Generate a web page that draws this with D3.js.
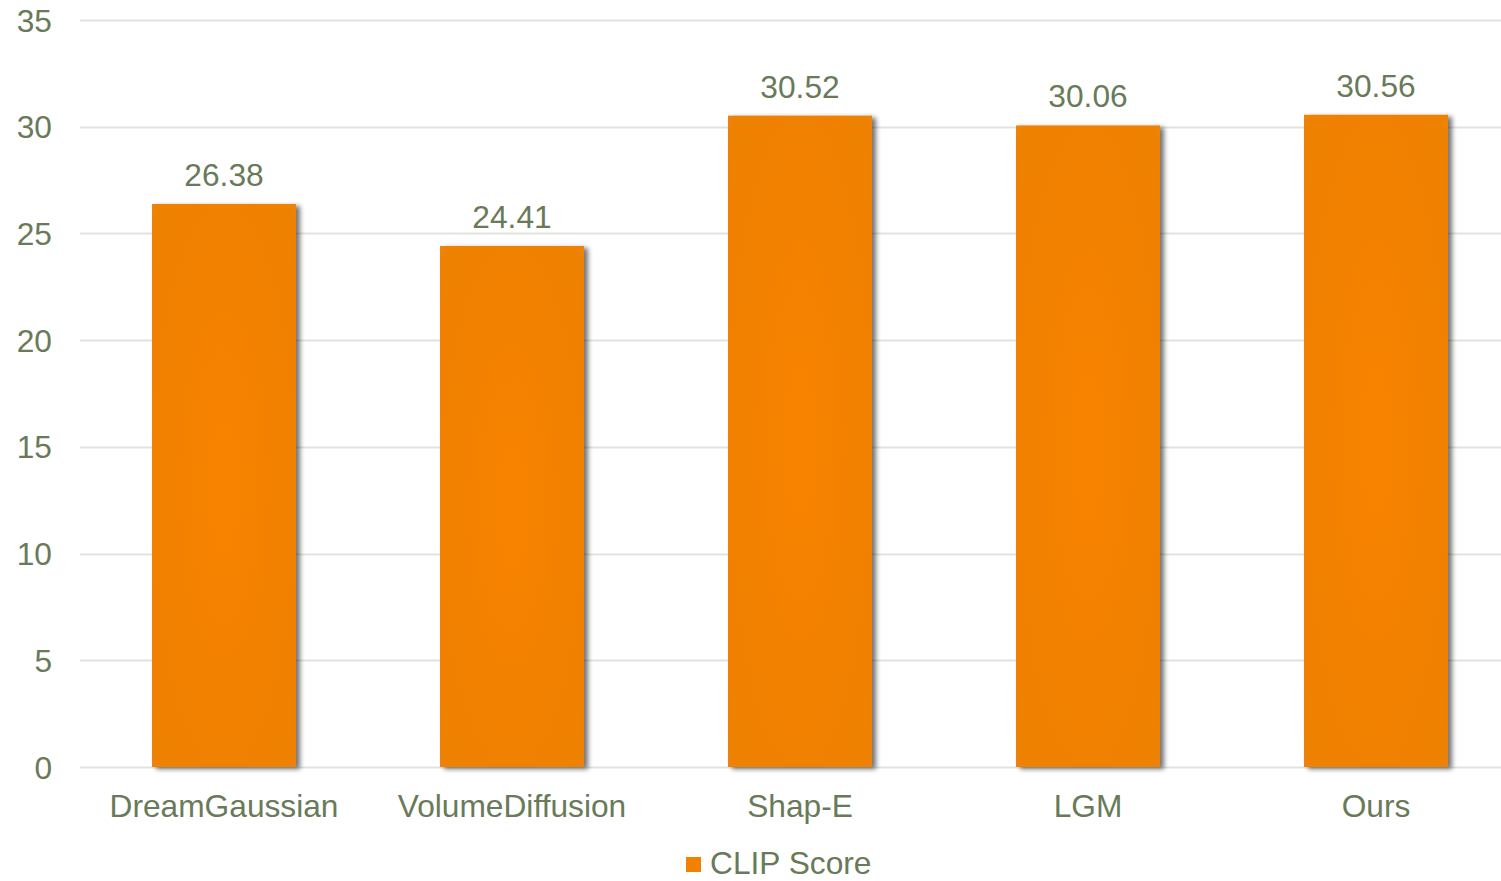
<!DOCTYPE html>
<html>
<head>
<meta charset="utf-8">
<script src="https://cdn.jsdelivr.net/npm/d3@7"></script>
<style>
  html, body { margin: 0; padding: 0; background: #fff; }
  svg { display: block; }
</style>
</head>
<body>
<svg id="chart" width="1501" height="881"></svg>
<script>
const categories = ["DreamGaussian", "VolumeDiffusion", "Shap-E", "LGM", "Ours"];
const clipScores = [26.38, 24.41, 30.52, 30.06, 30.56];
const yTicks = [0, 5, 10, 15, 20, 25, 30, 35];
const seriesName = "CLIP Score";

const textColor = "#697a59";
const gridColor = "#e3e3de";
const font = "'Liberation Sans', Arial, sans-serif";
const fontSize = "31.7px";

const svg = d3.select("#chart");
const margin = { top: 20, left: 80, bottom: 114 };
const plotRight = 1520;
const plotBottom = 881 - margin.bottom;

const x = d3.scaleBand()
  .domain(categories)
  .range([margin.left, plotRight])
  .paddingInner(0.5)
  .paddingOuter(0.25);

const y = d3.scaleLinear()
  .domain([0, 35])
  .range([plotBottom, margin.top]);

const defs = svg.append("defs");

const grad = defs.append("radialGradient")
  .attr("id", "barFill")
  .attr("cx", "50%").attr("cy", "50%").attr("r", "75%");
grad.append("stop").attr("offset", "0%").attr("stop-color", "#f88300");
grad.append("stop").attr("offset", "55%").attr("stop-color", "#f28100");
grad.append("stop").attr("offset", "100%").attr("stop-color", "#ed8208");

const shadow = defs.append("filter")
  .attr("id", "barShadow")
  .attr("x", "-10%").attr("y", "-10%").attr("width", "130%").attr("height", "120%");
shadow.append("feGaussianBlur").attr("in", "SourceAlpha").attr("stdDeviation", 2.5).attr("result", "blur");
shadow.append("feOffset").attr("in", "blur").attr("dx", 4).attr("dy", 2).attr("result", "off");
shadow.append("feComponentTransfer").attr("in", "off").attr("result", "soft")
  .append("feFuncA").attr("type", "linear").attr("slope", 0.55);
const merge = shadow.append("feMerge");
merge.append("feMergeNode").attr("in", "soft");
merge.append("feMergeNode").attr("in", "SourceGraphic");

// Horizontal gridlines
svg.append("g")
  .selectAll("line")
  .data(yTicks)
  .join("line")
  .attr("x1", margin.left)
  .attr("x2", plotRight)
  .attr("y1", d => Math.round(y(d)) + 0.5)
  .attr("y2", d => Math.round(y(d)) + 0.5)
  .attr("stroke", gridColor)
  .attr("stroke-width", 2);

// Y axis labels
const yAxis = d3.axisLeft(y).tickValues(yTicks).tickSize(0).tickPadding(0);
const yg = svg.append("g")
  .attr("transform", `translate(52,0)`)
  .call(yAxis);
yg.select(".domain").remove();
yg.selectAll("text")
  .attr("fill", textColor)
  .style("font-family", font)
  .style("font-size", fontSize)
  .attr("dy", "0.35em");

// Bars
svg.append("g")
  .selectAll("rect")
  .data(clipScores)
  .join("rect")
  .attr("x", (d, i) => x(categories[i]))
  .attr("y", d => y(d))
  .attr("width", x.bandwidth())
  .attr("height", d => plotBottom - y(d))
  .attr("fill", "url(#barFill)")
  .attr("filter", "url(#barShadow)");

// Value labels
svg.append("g")
  .selectAll("text")
  .data(clipScores)
  .join("text")
  .attr("x", (d, i) => x(categories[i]) + x.bandwidth() / 2)
  .attr("y", d => y(d) - 18)
  .attr("text-anchor", "middle")
  .attr("fill", textColor)
  .style("font-family", font)
  .style("font-size", fontSize)
  .text(d => d.toFixed(2));

// X axis labels
const xAxis = d3.axisBottom(x).tickSize(0).tickPadding(0);
const xg = svg.append("g")
  .attr("transform", `translate(0,${plotBottom})`)
  .call(xAxis);
xg.select(".domain").remove();
xg.selectAll("text")
  .attr("fill", textColor)
  .attr("y", 50)
  .attr("dy", 0)
  .style("font-family", font)
  .style("font-size", fontSize);

// Legend
const legend = svg.append("g").attr("transform", "translate(686,857)");
legend.append("rect")
  .attr("width", 15).attr("height", 15)
  .attr("fill", "#f28100");
legend.append("text")
  .attr("x", 24)
  .attr("y", 17)
  .attr("fill", textColor)
  .style("font-family", font)
  .style("font-size", fontSize)
  .text(seriesName);
</script>
</body>
</html>
